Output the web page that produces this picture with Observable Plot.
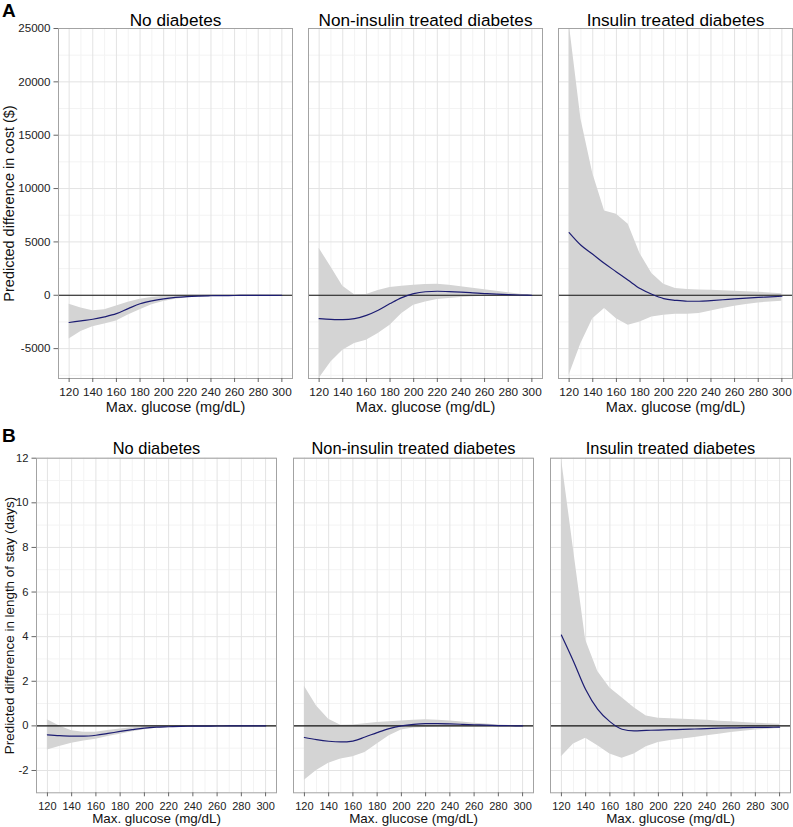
<!DOCTYPE html>
<html><head><meta charset="utf-8">
<script src="https://cdn.jsdelivr.net/npm/d3@7"></script>
<script src="https://cdn.jsdelivr.net/npm/@observablehq/plot@0.6"></script>
<style>
body{margin:0;background:#fff;font-family:"Liberation Sans",Arial,sans-serif;}
#wrap{position:relative;width:793px;height:827px;overflow:hidden;}
.row{position:absolute;left:0;}
.tag{position:absolute;font-weight:bold;font-size:19px;line-height:1;color:#000;}
</style></head><body>
<div id="wrap">
<div id="rowA" class="row" style="top:0"></div>
<div id="rowB" class="row" style="top:415px"></div>
<div class="tag" style="left:2px;top:1px">A</div>
<div class="tag" style="left:2px;top:426px">B</div>
</div>
<script>
const groups = ["No diabetes", "Non-insulin treated diabetes", "Insulin treated diabetes"];
const glucose = [120,130,140,150,160,170,180,190,200,210,220,230,240,250,260,270,280,290,300];
const xMajor = [120,140,160,180,200,220,240,260,280,300];
const xMinor = [130,150,170,190,210,230,250,270,290];
const xTitle = "Max. glucose (mg/dL)";

// Panel A: predicted difference in cost ($)
const costNoEst  = [-2550,-2400,-2250,-2020,-1720,-1250,-800,-520,-330,-200,-120,-75,-45,-30,-20,-12,-8,-4,0];
const costNoHi   = [-850,-1200,-1450,-1350,-1000,-650,-380,-200,-100,-50,-25,-12,-6,-3,-2,-1,0,0,0];
const costNoLo   = [-4100,-3400,-2950,-2700,-2400,-1850,-1350,-900,-580,-370,-230,-150,-95,-60,-40,-25,-15,-8,0];
const costNonEst = [-2190,-2250,-2280,-2190,-1880,-1400,-780,-220,150,330,375,350,300,230,160,100,60,25,0];
const costNonHi  = [4400,2650,850,50,80,450,720,850,940,1000,1030,950,800,650,520,370,230,100,0];
const costNonLo  = [-7800,-6250,-5160,-4530,-4220,-3590,-2810,-1720,-940,-625,-400,-300,-220,-150,-90,-60,-30,-15,0];
const costInsEst = [5875,4690,3840,2970,2190,1400,625,90,-310,-470,-560,-560,-500,-420,-330,-260,-200,-150,-90];
const costInsHi  = [25500,16500,11400,7900,7600,6660,3900,2030,1030,625,530,500,470,420,375,330,280,220,150];
const costInsLo  = [-7500,-4530,-2190,-1250,-2190,-2810,-2500,-2030,-1880,-1780,-1780,-1720,-1470,-1250,-1030,-870,-720,-630,-560];
const costTicks = [-5000,0,5000,10000,15000,20000,25000];
const costMinor = [-7500,-2500,2500,7500,12500,17500,22500];
const costLabel = "Predicted difference in cost ($)";

// Panel B: predicted difference in length of stay (days)
const losNoEst  = [-0.40,-0.44,-0.46,-0.46,-0.42,-0.34,-0.25,-0.17,-0.10,-0.06,-0.04,-0.02,-0.015,-0.01,-0.006,-0.004,-0.002,-0.001,0];
const losNoHi   = [0.27,0.0,-0.22,-0.28,-0.28,-0.21,-0.14,-0.08,-0.04,-0.02,-0.01,-0.005,-0.003,-0.002,-0.001,0,0,0,0];
const losNoLo   = [-1.08,-0.92,-0.78,-0.68,-0.60,-0.48,-0.37,-0.26,-0.17,-0.11,-0.07,-0.04,-0.03,-0.02,-0.01,-0.006,-0.004,-0.002,0];
const losNonEst = [-0.52,-0.62,-0.69,-0.72,-0.68,-0.50,-0.30,-0.12,0,0.07,0.10,0.10,0.09,0.07,0.05,0.03,0.015,0.005,0];
const losNonHi  = [1.78,0.89,0.30,0.03,0.04,0.10,0.15,0.19,0.22,0.25,0.27,0.25,0.22,0.17,0.12,0.08,0.04,0.02,0];
const losNonLo  = [-2.44,-2.00,-1.67,-1.48,-1.38,-1.19,-0.81,-0.44,-0.19,-0.10,-0.07,-0.05,-0.04,-0.03,-0.02,-0.01,-0.01,0,0];
const losInsEst = [4.07,2.89,1.63,0.74,0.19,-0.15,-0.22,-0.20,-0.19,-0.17,-0.16,-0.14,-0.12,-0.10,-0.09,-0.08,-0.07,-0.065,-0.06];
const losInsHi  = [12.0,7.9,3.85,2.44,1.70,1.26,0.81,0.44,0.34,0.32,0.30,0.28,0.25,0.21,0.18,0.15,0.12,0.10,0.07];
const losInsLo  = [-1.38,-0.81,-0.56,-0.89,-1.26,-1.45,-1.26,-0.93,-0.74,-0.66,-0.59,-0.52,-0.44,-0.37,-0.30,-0.24,-0.19,-0.15,-0.12];
const losTicks = [-2,0,2,4,6,8,10,12];
const losMinor = [-1,1,3,5,7,9,11];
const losLabel = "Predicted difference in length of stay (days)";

function rowsOf(g, est, lo, hi) {
  return glucose.map((x, i) => ({g, x, est: est[i], lo: lo[i], hi: hi[i]}));
}
const costData = [
  ...rowsOf(groups[0], costNoEst, costNoLo, costNoHi),
  ...rowsOf(groups[1], costNonEst, costNonLo, costNonHi),
  ...rowsOf(groups[2], costInsEst, costInsLo, costInsHi)
];
const losData = [
  ...rowsOf(groups[0], losNoEst, losNoLo, losNoHi),
  ...rowsOf(groups[1], losNonEst, losNonLo, losNonHi),
  ...rowsOf(groups[2], losInsEst, losInsLo, losInsHi)
];

const FONT = "Liberation Sans, Arial, Helvetica, sans-serif";

function makeRow(o) {
  return Plot.plot({
    width: 793, height: o.height,
    marginLeft: o.marginLeft, marginRight: o.marginRight,
    marginTop: o.marginTop, marginBottom: o.marginBottom,
    style: {fontFamily: FONT, fontSize: o.tickFont + "px", color: "#222", background: "white", overflow: "visible"},
    fx: {domain: groups, axis: null, paddingInner: o.pad, paddingOuter: 0},
    x: {domain: [111, 309]},
    y: {domain: o.yDomain},
    marks: [
      Plot.gridX({ticks: xMinor, stroke: "#f3f3f3", strokeOpacity: 1}),
      Plot.gridY({ticks: o.yMinor, stroke: "#f3f3f3", strokeOpacity: 1}),
      Plot.gridX({ticks: xMajor, stroke: "#e3e3e3", strokeOpacity: 1}),
      Plot.gridY({ticks: o.yTicks, stroke: "#e3e3e3", strokeOpacity: 1}),
      Plot.areaY(o.data, {fx: "g", x: "x", y1: "lo", y2: "hi", fill: "#d4d4d4", clip: true}),
      Plot.ruleY([0], {stroke: "#111", strokeWidth: 1.1}),
      Plot.line(o.data, {fx: "g", x: "x", y: "est", stroke: "#1c1c72", strokeWidth: 1.2, curve: "monotone-x", clip: true}),
      Plot.frame({stroke: "#a3a3a3"}),
      Plot.axisX({ticks: xMajor, tickSize: 4, tickPadding: 5, label: null, stroke: "#666", fontSize: o.xTickFont, tickFormat: d => String(d)}),
      Plot.axisY({ticks: o.yTicks, tickSize: 4.5, tickPadding: 3.5, label: null, stroke: "#666", fontSize: o.tickFont, tickFormat: d => String(d)}),
      Plot.text([xTitle], {frameAnchor: "bottom", lineAnchor: "middle", textAnchor: "middle", dy: o.xTitleDy, fontSize: o.axisFont, fill: "#111"}),
      Plot.text([{g: groups[0], t: o.yLabel}], {fx: "g", text: "t", frameAnchor: "left", textAnchor: "middle", lineAnchor: "middle", rotate: -90, dx: o.yTitleDx, fontSize: o.axisFont, fill: "#111"}),
      Plot.text(groups, {fx: d => d, text: d => d, frameAnchor: "top", lineAnchor: "middle", textAnchor: "middle", dy: o.titleDy, fontSize: o.titleFont, fill: "#000"})
    ]
  });
}

document.getElementById("rowA").append(makeRow({
  data: costData, height: 415, marginLeft: 58, marginRight: 1, marginTop: 28, marginBottom: 37,
  pad: 0.064, yDomain: [-7800, 25000], yTicks: costTicks, yMinor: costMinor, yLabel: costLabel,
  tickFont: 11.6, xTickFont: 11.8, axisFont: 14.5, titleFont: 17.2, xTitleDy: 29, yTitleDx: -49, titleDy: -8.5
}));
document.getElementById("rowB").append(makeRow({
  data: losData, height: 412, marginLeft: 35, marginRight: 2, marginTop: 42.7, marginBottom: 34.7,
  pad: 0.066, yDomain: [-3, 12], yTicks: losTicks, yMinor: losMinor, yLabel: losLabel,
  tickFont: 11.2, xTickFont: 11, axisFont: 13.4, titleFont: 16.4, xTitleDy: 26, yTitleDx: -27, titleDy: -9.7
}));
</script>
</body></html>
